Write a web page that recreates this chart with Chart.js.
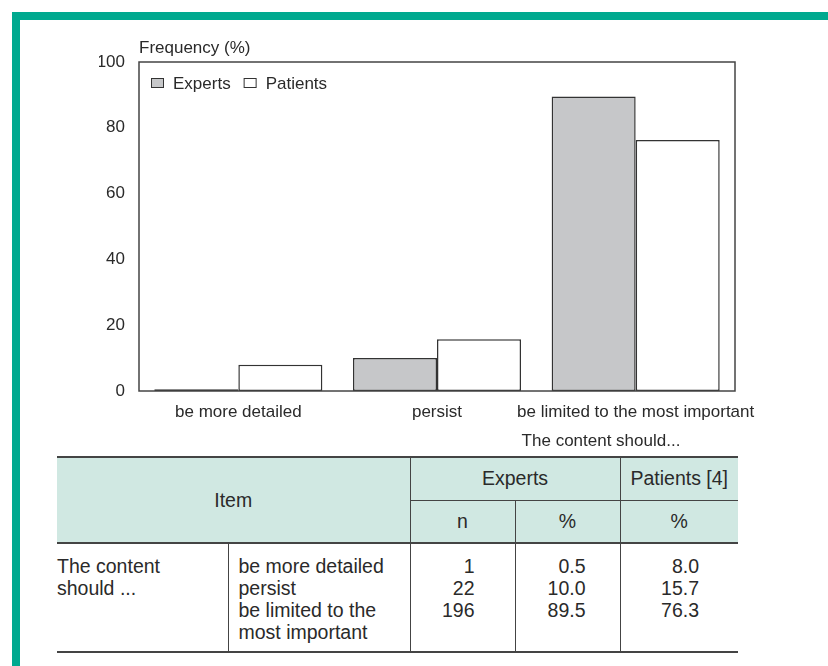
<!DOCTYPE html>
<html>
<head>
<meta charset="utf-8">
<script src="https://cdn.jsdelivr.net/npm/chart.js@4"></script>
<style>
  html, body { margin: 0; padding: 0; background: #fff; width: 828px; height: 666px; overflow: hidden; }
  body { position: relative; font-family: "Liberation Sans", Arial, sans-serif; color: #2a2a2a; }
  .band-top { position: absolute; left: 12px; top: 12px; width: 816px; height: 8px; background: #00a98f; }
  .band-left { position: absolute; left: 12px; top: 12px; width: 8px; height: 654px; background: #00a98f; }
  #c { position: absolute; left: 0; top: 0; }
  table { position: absolute; left: 57px; top: 456px; border-collapse: collapse; table-layout: fixed; font-size: 19.5px; color: #2a2a2a; }
  th { font-weight: normal; background: #d0e8e2; text-align: center; padding: 0; }
  td { vertical-align: top; padding: 11px 0 0 0; line-height: 22px; }
  .top { border-top: 2px solid #444; }
  .hb { border-bottom: 2px solid #444; }
  .vl { border-left: 1.5px solid #444; }
  .sub { border-bottom: 1.5px solid #444; }
  .bot { border-bottom: 2px solid #444; }
</style>
</head>
<body>
<div class="band-top"></div>
<div class="band-left"></div>
<canvas id="c" width="828" height="455"></canvas>
<table id="tbl">
  <colgroup>
    <col style="width:171px"><col style="width:182px"><col style="width:105px"><col style="width:105px"><col style="width:118px">
  </colgroup>
  <thead></thead>
  <tbody></tbody>
</table>
<script>
const categories = ["be more detailed", "persist", "be limited to the most important"];
const expertsPct = [0.5, 10.0, 89.5];
const patientsPct = [8.0, 15.7, 76.3];
const expertsN = [1, 22, 196];
const tableItems = ["be more detailed", "persist", "be limited to the\nmost important"];
const yTicks = [0, 20, 40, 60, 80, 100];
const yTitle = "Frequency (%)";
const xTitle = "The content should...";
const seriesNames = ["Experts", "Patients"];

const FONT = "'Liberation Sans', Arial, sans-serif";

const framePlugin = {
  id: 'frame',
  afterDraw(chart) {
    const { ctx, chartArea: a } = chart;
    ctx.save();
    ctx.strokeStyle = '#444';
    ctx.lineWidth = 1.5;
    ctx.strokeRect(a.left, a.top, a.right - a.left, a.bottom - a.top);
    ctx.fillStyle = '#2a2a2a';
    ctx.font = "17px " + FONT;
    ctx.textBaseline = 'alphabetic';
    ctx.textAlign = 'left';
    ctx.fillText(yTitle, a.left, a.top - 9);
    ctx.textAlign = 'center';
    ctx.fillText(xTitle, 601, 446);
    // legend inside the plot area, top-left
    ctx.textAlign = 'left';
    let x = a.left + 12;
    const boxTop = a.top + 16;
    chart.data.datasets.forEach(ds => {
      ctx.fillStyle = ds.backgroundColor;
      ctx.fillRect(x, boxTop, 13, 9);
      ctx.strokeStyle = '#333';
      ctx.lineWidth = 1;
      ctx.strokeRect(x + 0.5, boxTop + 0.5, 12, 9);
      ctx.fillStyle = '#2a2a2a';
      ctx.fillText(ds.label, x + 22, boxTop + 11);
      x += 22 + ctx.measureText(ds.label).width + 13;
    });
    ctx.restore();
  }
};

new Chart(document.getElementById('c'), {
  type: 'bar',
  data: {
    labels: categories,
    datasets: [
      { label: seriesNames[0], data: expertsPct, backgroundColor: '#c6c7c9', borderColor: '#333', borderWidth: 1.5, borderSkipped: false },
      { label: seriesNames[1], data: patientsPct, backgroundColor: '#ffffff', borderColor: '#333', borderWidth: 1.5, borderSkipped: false }
    ]
  },
  options: {
    responsive: false,
    devicePixelRatio: 1,
    animation: false,
    layout: { padding: { left: 99, right: 93, top: 62, bottom: 20 } },
    datasets: { bar: { categoryPercentage: 0.846, barPercentage: 1.0 } },
    plugins: {
      legend: { display: false },
      tooltip: { enabled: false },
      title: { display: false }
    },
    scales: {
      x: {
        grid: { display: false, drawTicks: false },
        border: { display: false },
        ticks: { color: '#2a2a2a', font: { family: FONT, size: 17 }, padding: 11, maxRotation: 0, autoSkip: false },
        afterFit(s) { s.height = 44; }
      },
      y: {
        min: 0, max: 100,
        afterBuildTicks(s) { s.ticks = yTicks.map(v => ({ value: v })); },
        grid: { display: false, drawTicks: false },
        border: { display: false },
        ticks: { color: '#2a2a2a', font: { family: FONT, size: 17 }, padding: 14 },
        afterFit(s) { s.width = 40; }
      }
    }
  },
  plugins: [framePlugin]
});

// Table
const thead = document.querySelector('#tbl thead');
thead.innerHTML =
  '<tr style="height:43px">' +
    '<th class="top hb" colspan="2" rowspan="2">Item</th>' +
    '<th class="top sub vl" colspan="2">' + seriesNames[0] + '</th>' +
    '<th class="top sub vl">' + seriesNames[1] + ' [4]</th>' +
  '</tr>' +
  '<tr style="height:43px">' +
    '<th class="hb vl">n</th><th class="hb vl">%</th><th class="hb vl">%</th>' +
  '</tr>';
const tbody = document.querySelector('#tbl tbody');
const fmt = v => v.toFixed(1);
tbody.innerHTML =
  '<tr style="height:109px">' +
    '<td class="bot">The content<br>should ...</td>' +
    '<td class="bot vl" style="padding-left:10px">' + tableItems.map(s => s.replace('\n', '<br>')).join('<br>') + '</td>' +
    '<td class="bot vl" style="text-align:right;padding-right:40px">' + expertsN.join('<br>') + '</td>' +
    '<td class="bot vl" style="text-align:right;padding-right:34px">' + expertsPct.map(fmt).join('<br>') + '</td>' +
    '<td class="bot vl" style="text-align:right;padding-right:39px">' + patientsPct.map(fmt).join('<br>') + '</td>' +
  '</tr>';
</script>
</body>
</html>
